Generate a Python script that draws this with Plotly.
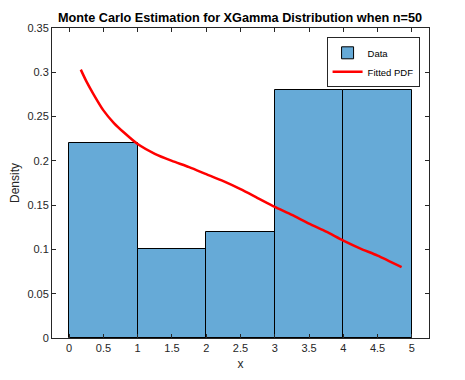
import plotly.graph_objects as go

# Histogram bins (unit width) and densities
bin_centers = [0.5, 1.5, 2.5, 3.5, 4.5]
bin_density = [0.22, 0.10, 0.12, 0.28, 0.28]

# Fitted PDF curve
pdf_x = [0.17, 0.25, 0.35, 0.5, 0.65, 0.8, 1.0, 1.25, 1.5, 1.75, 2.0, 2.25,
         2.5, 2.75, 3.0, 3.25, 3.5, 3.75, 4.0, 4.25, 4.5, 4.85]
pdf_y = [0.303, 0.290, 0.276, 0.257, 0.243, 0.232, 0.219, 0.208, 0.200, 0.193,
         0.185, 0.177, 0.168, 0.158, 0.148, 0.139, 0.129, 0.120, 0.110, 0.101,
         0.093, 0.080]

x_ticks = [0, 0.5, 1, 1.5, 2, 2.5, 3, 3.5, 4, 4.5, 5]
y_ticks = [0, 0.05, 0.1, 0.15, 0.2, 0.25, 0.3, 0.35]

fig = go.Figure()

fig.add_trace(go.Bar(
    x=bin_centers, y=bin_density, width=1, name="Data",
    marker=dict(color="#66AAD7", line=dict(color="black", width=1)),
))

fig.add_trace(go.Scatter(
    x=pdf_x, y=pdf_y, mode="lines", name="Fitted PDF",
    line=dict(color="#FF0000", width=2.5, shape="spline", smoothing=0.6),
))

axis_style = dict(
    showline=True, linecolor="#262626", linewidth=1, mirror="allticks",
    ticks="inside", ticklen=4, tickcolor="#262626",
    showgrid=False, zeroline=False, automargin=False,
    tickfont=dict(family="Liberation Sans, Arial", size=11, color="#262626"),
)

# page body adds an 8px offset, margins compensate for it
fig.update_layout(
    width=465, height=380,
    margin=dict(l=44, r=44, t=20, b=50),
    paper_bgcolor="white", plot_bgcolor="white",
    bargap=0,
    title=dict(text="<b>Monte Carlo Estimation for XGamma Distribution when n=50</b>",
               x=0.499, xanchor="center", y=0.976, yanchor="middle",
               font=dict(family="Liberation Sans, Arial", size=12.7, color="black")),
    xaxis=dict(range=[-0.25, 5.25], tickvals=x_ticks,
               ticktext=[f"{v:g}" for v in x_ticks],
               title=dict(text="x", standoff=6,
                          font=dict(family="Liberation Sans, Arial", size=12, color="#262626")),
               **axis_style),
    yaxis=dict(range=[0, 0.35], tickvals=y_ticks,
               ticktext=[f"{v:g}" for v in y_ticks],
               title=dict(text="Density", standoff=6,
                          font=dict(family="Liberation Sans, Arial", size=12, color="#262626")),
               **axis_style),
    legend=dict(x=0.975, y=0.97, xanchor="right", yanchor="top",
                bgcolor="white", bordercolor="#262626", borderwidth=1,
                font=dict(family="Liberation Sans, Arial", size=9.5, color="black"),
                tracegroupgap=0, itemwidth=30),
    showlegend=True,
)

fig.write_html("out.html")
